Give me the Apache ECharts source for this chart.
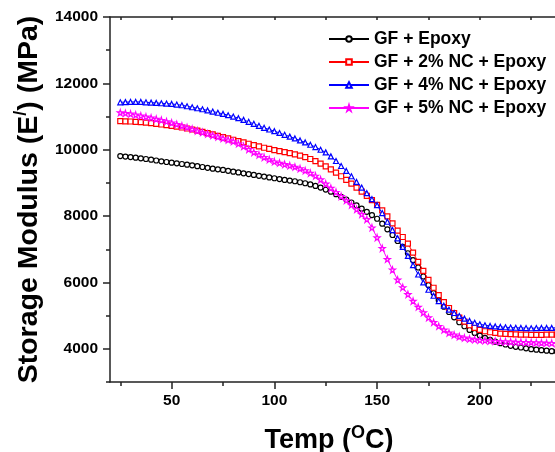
<!DOCTYPE html>
<html>
<head>
<meta charset="utf-8">
<script src="https://cdn.jsdelivr.net/npm/echarts@6/dist/echarts.min.js"></script>
<style>
html,body{margin:0;padding:0;background:#fff;}
#chart{width:555px;height:452px;}
</style>
</head>
<body>
<div id="chart"></div>
<script>
const temps = [25,27.5,30,32.5,35,37.5,40,42.5,45,47.5,
  50,52.5,55,57.5,60,62.5,65,67.5,70,72.5,
  75,77.5,80,82.5,85,87.5,90,92.5,95,97.5,
  100,102.5,105,107.5,110,112.5,115,117.5,120,122.5,
  125,127.5,130,132.5,135,137.5,140,142.5,145,147.5,
  150,152.5,155,157.5,160,162.5,165,167.5,170,172.5,
  175,177.5,180,182.5,185,187.5,190,192.5,195,197.5,
  200,202.5,205,207.5,210,212.5,215,217.5,220,222.5,
  225,227.5,230,232.5,235,237.5,240];
const gfEpoxy = [9810,9795,9780,9760,9740,9720,9700,9675,9650,9630,
  9610,9590,9570,9550,9530,9505,9480,9455,9430,9410,
  9390,9365,9340,9315,9290,9265,9240,9215,9190,9165,
  9140,9115,9090,9070,9050,9020,8990,8955,8910,8860,
  8800,8735,8660,8580,8500,8410,8320,8225,8130,8030,
  7920,7770,7600,7430,7250,7070,6880,6670,6450,6180,
  5920,5680,5460,5270,5110,4950,4800,4680,4570,4480,
  4400,4330,4270,4215,4170,4130,4090,4060,4040,4015,
  3990,3975,3960,3945,3930,3920,3910];
const gf2NC = [10860,10855,10850,10840,10830,10815,10800,10780,10760,10740,
  10720,10695,10670,10640,10610,10575,10540,10500,10460,10420,
  10380,10340,10300,10260,10220,10180,10140,10100,10060,10025,
  9990,9960,9930,9895,9860,9820,9775,9720,9655,9580,
  9500,9410,9310,9200,9090,8980,8860,8740,8610,8480,
  8340,8170,7990,7780,7560,7370,7170,6900,6620,6350,
  6080,5840,5620,5410,5230,5080,4940,4820,4710,4630,
  4570,4530,4500,4480,4460,4450,4440,4435,4430,4425,
  4420,4420,4420,4425,4430,4430,4430];
const gf4NC = [11430,11435,11440,11440,11440,11430,11420,11410,11400,11390,
  11380,11360,11340,11310,11280,11250,11220,11185,11150,11115,
  11080,11040,11000,10950,10900,10840,10780,10720,10660,10610,
  10560,10505,10450,10395,10340,10280,10220,10150,10080,10000,
  9920,9800,9660,9510,9360,9200,9030,8860,8690,8510,
  8330,8090,7830,7580,7330,7070,6800,6520,6240,6000,
  5780,5600,5440,5300,5180,5080,4990,4910,4840,4785,
  4740,4710,4690,4675,4660,4650,4640,4635,4630,4625,
  4620,4625,4630,4630,4630,4635,4640];
const gf5NC = [11120,11100,11080,11050,11020,10990,10960,10925,10890,10850,
  10810,10765,10720,10670,10620,10570,10520,10475,10430,10385,
  10340,10295,10250,10180,10100,10010,9920,9845,9770,9705,
  9640,9600,9560,9520,9480,9430,9370,9295,9210,9100,
  8970,8845,8720,8595,8470,8335,8200,8055,7900,7650,
  7350,7030,6700,6380,6080,5850,5640,5440,5260,5090,
  4940,4800,4680,4570,4480,4420,4370,4330,4300,4280,
  4260,4250,4240,4230,4220,4215,4210,4205,4200,4195,
  4190,4185,4180,4175,4170,4170,4170];
const seriesNames = ['GF + Epoxy','GF + 2% NC + Epoxy','GF + 4% NC + Epoxy','GF + 5% NC + Epoxy'];
const xMajorTicks = [50,100,150,200];
const xMinorTicks = [25,75,125,175,225];
const xTopTicks = [25,50,75,100,125,150,175,200,225];
const yMajorTicks = [4000,6000,8000,10000,12000,14000];
const yMinorTicks = [3000,5000,7000,9000,11000,13000];

const FONT = 'Liberation Sans, Arial, Helvetica, sans-serif';
const colors = ['#000000','#ff0000','#0000ff','#ff00ff'];
const star = 'path://M50,0 L61,35 L98,35 L68,57 L79,91 L50,70 L21,91 L32,57 L2,35 L39,35 Z';
const symbols = ['circle','rect','triangle',star];
const allData = [gfEpoxy, gf2NC, gf4NC, gf5NC];

const chart = echarts.init(document.getElementById('chart'));
const axisLineStyle = {color:'#222', width:1.5};
const lbl = {fontFamily:FONT, fontWeight:'bold', fontSize:15.5, color:'#000', formatter:(v)=>String(v)};

const option = {
  animation:false,
  backgroundColor:'#fff',
  grid:{left:110, top:17, bottom:70, right:-7, containLabel:false, outerBoundsMode:'none'},
  legend:{
    orient:'vertical', left:328, top:30, padding:0, itemWidth:40, itemHeight:7, itemGap:5,
    textStyle:{fontFamily:FONT, fontWeight:'bold', fontSize:17.5, color:'#000'},
    data:seriesNames
  },
  xAxis:[
    {type:'value', min:20, max:240, position:'bottom',
     axisLine:{show:true, onZero:false, lineStyle:axisLineStyle},
     axisTick:{show:true, customValues:xMajorTicks, length:7, lineStyle:axisLineStyle},
     axisLabel:{show:true, customValues:xMajorTicks, margin:11, ...lbl},
     splitLine:{show:false},
     name:'{t|Temp (}{s|O}{t|C)}', nameLocation:'middle', nameGap:42,
     nameTextStyle:{padding:[0,14,0,0], rich:{
       t:{fontFamily:FONT, fontWeight:'bold', fontSize:27, color:'#000', lineHeight:30, verticalAlign:'bottom'},
       s:{fontFamily:FONT, fontWeight:'bold', fontSize:18, color:'#000', lineHeight:30, verticalAlign:'top'}
     }}
    },
    {type:'value', min:20, max:240, position:'bottom',
     axisLine:{show:false},
     axisTick:{show:true, customValues:xMinorTicks, length:4, lineStyle:axisLineStyle},
     axisLabel:{show:false}, splitLine:{show:false}},
    {type:'value', min:20, max:240, position:'top',
     axisLine:{show:true, onZero:false, lineStyle:axisLineStyle},
     axisTick:{show:true, inside:true, customValues:xTopTicks, length:3, lineStyle:axisLineStyle},
     axisLabel:{show:false}, splitLine:{show:false}}
  ],
  yAxis:[
    {type:'value', min:3000, max:14000, position:'left',
     axisLine:{show:true, onZero:false, lineStyle:axisLineStyle},
     axisTick:{show:true, customValues:yMajorTicks, length:7, lineStyle:axisLineStyle},
     axisLabel:{show:true, customValues:yMajorTicks, margin:12, ...lbl},
     splitLine:{show:false},
     name:'{t|Storage Modulus (E}{s|/}{t|) (MPa)}', nameLocation:'middle', nameGap:51, nameRotate:90,
     nameTextStyle:{rich:{
       t:{fontFamily:FONT, fontWeight:'bold', fontSize:28.5, color:'#000', lineHeight:32, verticalAlign:'bottom'},
       s:{fontFamily:FONT, fontWeight:'bold', fontSize:18, color:'#000', lineHeight:32, verticalAlign:'top'}
     }}
    },
    {type:'value', min:3000, max:14000, position:'left',
     axisLine:{show:false},
     axisTick:{show:true, customValues:yMinorTicks, length:4, lineStyle:axisLineStyle},
     axisLabel:{show:false}, splitLine:{show:false}}
  ],
  series: allData.map((arr,i)=>({
    name:seriesNames[i], type:'line', xAxisIndex:0, yAxisIndex:0,
    data: temps.map((t,j)=>[t, arr[j]]),
    symbol:symbols[i], symbolSize: i===3 ? 6 : 5, showSymbol:true,
    lineStyle:{color:colors[i], width:1},
    itemStyle:{color:'#fff', borderColor:colors[i], borderWidth:1.2},
    z: 2+i
  }))
};
chart.setOption(option);
</script>
</body>
</html>
